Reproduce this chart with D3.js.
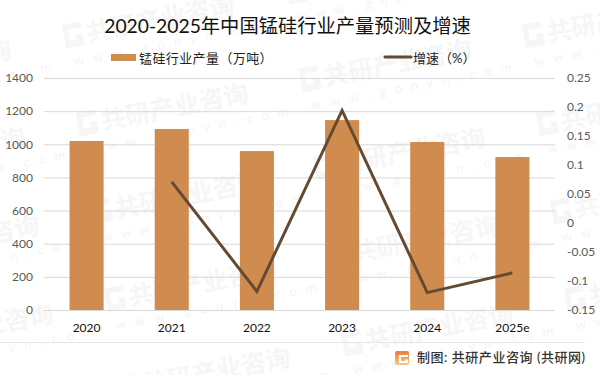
<!DOCTYPE html>
<html>
<head>
<meta charset="utf-8">
<script src="https://cdn.jsdelivr.net/npm/d3@7"></script>
<style>
    html, body { margin: 0; padding: 0; background: #fff; }
    text { font-family: Lato, "Noto Sans CJK SC", sans-serif; }
</style>
</head>
<body>
<div id="chart"></div>
<script>
"use strict"

const years = ["2020", "2021", "2022", "2023", "2024", "2025e"];
const output = [1020, 1092, 959, 1146, 1014, 923];
const growth = [null, 0.071, -0.118, 0.194, -0.12, -0.086];
const leftTicks = [0, 200, 400, 600, 800, 1000, 1200, 1400];
const rightTicks = [-0.15, -0.1, -0.05, 0, 0.05, 0.1, 0.15, 0.2, 0.25];

const barColor = "#d08c4f";
const lineColor = "#654a33";
const width = 600, height = 375;
const plot = { left: 44, right: 555, top: 78, bottom: 310 };

const svg = d3.select("#chart").append("svg")
    .attr("width", width)
    .attr("height", height)
    .style("display", "block");

let x = d3.scaleBand().domain(years).range([plot.left, plot.right]).paddingInner(0.6).paddingOuter(0.3);
let yLeft = d3.scaleLinear().domain([0, 1400]).range([plot.bottom, plot.top]);
let yRight = d3.scaleLinear().domain([-0.15, 0.25]).range([plot.bottom, plot.top]);

drawWatermarks();
drawAxes();
drawBars();
drawLine();
drawTitleAndLegend();
drawFooter();

// logo block + company name + url, repeated on a slanted grid
function drawWatermarks() {
    let wm = svg.append("g").attr("class", "watermarks");
    for (let i = -2; i <= 3; i++) {
        for (let j = -2; j <= 3; j++) {
            let px = 77 + 223 * i + 14 * j;
            let py = 135 - 44 * i + 88 * j;
            if (px < -200 || px > 620 || py < -20 || py > 400) continue;
            let g = wm.append("g").attr("transform", "translate(" + px + "," + py + ") rotate(-11)");
            g.append("path")
                .attr("d", "M3 -22H22V-16H8V-5H15V-10H22V2H3Z")
                .attr("fill", "#f6f6f6");
            g.append("text")
                .attr("x", 26)
                .attr("y", 0)
                .attr("font-size", 25)
                .attr("font-weight", 700)
                .attr("fill", "#f6f6f6")
                .text("共研产业咨询");
            g.append("text")
                .attr("x", 8)
                .attr("y", 21)
                .attr("font-size", 13)
                .attr("letter-spacing", "9px")
                .attr("fill", "#f4f4f4")
                .text("www.gonyn.com");
        }
    }
}

function drawAxes() {
    let left = svg.append("g")
        .attr("transform", "translate(" + plot.left + ",0)")
        .call(d3.axisLeft(yLeft).tickValues(leftTicks).tickFormat(d => String(d)).tickSize(-(plot.right - plot.left)).tickPadding(11));
    left.select(".domain").remove();
    left.selectAll("line").attr("stroke", "#d9d9d9").attr("stroke-width", 1);
    left.selectAll("text").attr("font-size", 12).attr("fill", "#595959");

    let right = svg.append("g")
        .attr("transform", "translate(" + plot.right + ",0)")
        .call(d3.axisRight(yRight).tickValues(rightTicks).tickFormat(d => String(d)).tickSize(0).tickPadding(12));
    right.select(".domain").remove();
    right.selectAll("text").attr("font-size", 12).attr("fill", "#595959");

    let bottom = svg.append("g")
        .attr("transform", "translate(0," + plot.bottom + ")")
        .call(d3.axisBottom(x).tickSize(0).tickPadding(13));
    bottom.select(".domain").remove();
    bottom.selectAll("text").attr("font-size", 12).attr("fill", "#111");
}

function drawBars() {
    svg.append("g").selectAll("rect")
        .data(output)
        .join("rect")
        .attr("x", (d, i) => x(years[i]))
        .attr("y", d => yLeft(d))
        .attr("width", x.bandwidth())
        .attr("height", d => yLeft(0) - yLeft(d))
        .attr("fill", barColor);
}

function drawLine() {
    let lineFunc = d3.line()
        .defined(d => d !== null)
        .x((d, i) => x(years[i]) + x.bandwidth() / 2)
        .y(d => yRight(d));

    svg.append("path")
        .attr("d", lineFunc(growth))
        .attr("fill", "none")
        .attr("stroke", lineColor)
        .attr("stroke-width", 3)
        .attr("stroke-linejoin", "miter");
}

function drawTitleAndLegend() {
    svg.append("text")
        .attr("x", 287.5)
        .attr("y", 33)
        .attr("text-anchor", "middle")
        .attr("font-size", 19.3)
        .attr("fill", "#111")
        .text("2020-2025年中国锰硅行业产量预测及增速");

    svg.append("rect")
        .attr("x", 111).attr("y", 54)
        .attr("width", 25).attr("height", 7)
        .attr("fill", barColor);
    svg.append("text")
        .attr("x", 139).attr("y", 63)
        .attr("font-size", 13)
        .attr("letter-spacing", "0.4px")
        .attr("fill", "#222")
        .text("锰硅行业产量（万吨）");

    svg.append("line")
        .attr("x1", 385).attr("x2", 411)
        .attr("y1", 57).attr("y2", 57)
        .attr("stroke", lineColor)
        .attr("stroke-width", 3)
        .attr("stroke-linecap", "round");
    svg.append("text")
        .attr("x", 413).attr("y", 63)
        .attr("font-size", 13)
        .attr("fill", "#222")
        .text("增速（%）");
}

function drawFooter() {
    svg.append("line")
        .attr("x1", 0).attr("x2", 585)
        .attr("y1", 342.5).attr("y2", 342.5)
        .attr("stroke", "#e6e6e6");

    let grad = svg.append("defs").append("linearGradient")
        .attr("id", "logoGrad")
        .attr("x1", 0).attr("y1", 0).attr("x2", 0).attr("y2", 1);
    grad.append("stop").attr("offset", 0).attr("stop-color", "#ee7b3c");
    grad.append("stop").attr("offset", 1).attr("stop-color", "#f9c98a");

    svg.append("rect")
        .attr("x", 395).attr("y", 351)
        .attr("width", 14).attr("height", 14)
        .attr("rx", 2)
        .attr("fill", "url(#logoGrad)");
    svg.append("path")
        .attr("d", "M399 355H408V357H401V361H405V359.5H408V363H399Z")
        .attr("fill", "#fff");

    svg.append("text")
        .attr("x", 417).attr("y", 362)
        .attr("font-size", 13)
        .attr("font-weight", 500)
        .attr("letter-spacing", "0.55px")
        .attr("fill", "#333")
        .text("制图: 共研产业咨询 (共研网)");
}
</script>
</body>
</html>
